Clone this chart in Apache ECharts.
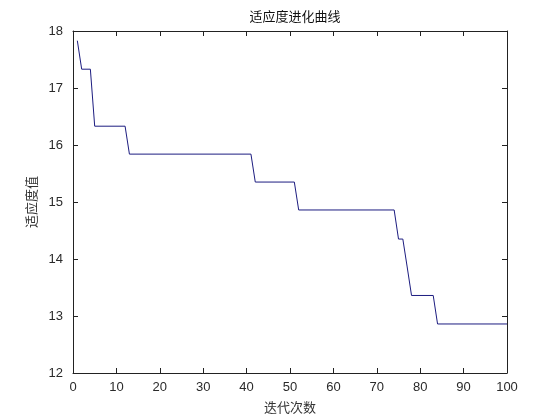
<!DOCTYPE html>
<html><head><meta charset="utf-8">
<script src="https://cdn.jsdelivr.net/npm/echarts@6/dist/echarts.min.js"></script>
<style>html,body{margin:0;padding:0;background:#fff}#c{width:560px;height:420px}</style>
</head><body><div id="c"></div>
<script>
const titleText = '适应度进化曲线';
const xName = '迭代次数';
const yName = '适应度值';
const iterations = [1, 2, 4, 5, 12, 13, 41, 42, 51, 52, 74, 75, 76, 77, 78, 83, 84, 100];
const fitness = [17.83, 17.33, 17.33, 16.33, 16.33, 15.84, 15.84, 15.35, 15.35, 14.86, 14.86, 14.35, 14.35, 13.86, 13.36, 13.36, 12.86, 12.86];
const xTicks = [0, 10, 20, 30, 40, 50, 60, 70, 80, 90, 100];
const yTicks = [12, 13, 14, 15, 16, 17, 18];

const data = iterations.map((x, i) => [x, fitness[i]]);
const cjk = '"Noto Sans CJK SC", sans-serif';
const lat = '"Liberation Sans", Arial, sans-serif';
const tick = { show: true, inside: true, length: 5, lineStyle: { color: '#222' } };
const line = { show: true, onZero: false, lineStyle: { color: '#222', width: 1 } };
const chart = echarts.init(document.getElementById('c'), null, { renderer: 'canvas' });
chart.setOption({
  animation: false,
  backgroundColor: '#fff',
  title: { text: titleText, left: 290, top: 5, textAlign: 'center',
    textStyle: { fontFamily: cjk, fontSize: 13, fontWeight: 'normal', color: '#111' } },
  grid: { left: 73, right: 53, top: 31, bottom: 47 },
  xAxis: [
    { type: 'value', min: xTicks[0], max: xTicks[xTicks.length - 1], interval: 10,
      axisLine: line, axisTick: tick, splitLine: { show: false },
      axisLabel: { fontFamily: lat, fontSize: 13, color: '#2a2a2a', margin: 8 },
      name: xName, nameLocation: 'middle', nameGap: 28,
      nameTextStyle: { fontFamily: cjk, fontSize: 13, color: '#333' } },
    { type: 'value', position: 'top', min: 0, max: 100, interval: 10,
      axisLine: line, axisTick: tick, axisLabel: { show: false }, splitLine: { show: false } }
  ],
  yAxis: [
    { type: 'value', min: yTicks[0], max: yTicks[yTicks.length - 1], interval: 1,
      axisLine: line, axisTick: tick, splitLine: { show: false },
      axisLabel: { fontFamily: lat, fontSize: 13, color: '#2a2a2a', margin: 10 },
      name: yName, nameLocation: 'middle', nameGap: 26, nameRotate: 90,
      nameTextStyle: { fontFamily: cjk, fontSize: 13, color: '#333' } },
    { type: 'value', position: 'right', min: 12, max: 18, interval: 1,
      axisLine: line, axisTick: tick, axisLabel: { show: false }, splitLine: { show: false } }
  ],
  series: [{
    type: 'line', data: data, xAxisIndex: 0, yAxisIndex: 0,
    showSymbol: false, symbol: 'none',
    lineStyle: { color: '#1c1c80', width: 1 }
  }]
});
</script></body></html>
